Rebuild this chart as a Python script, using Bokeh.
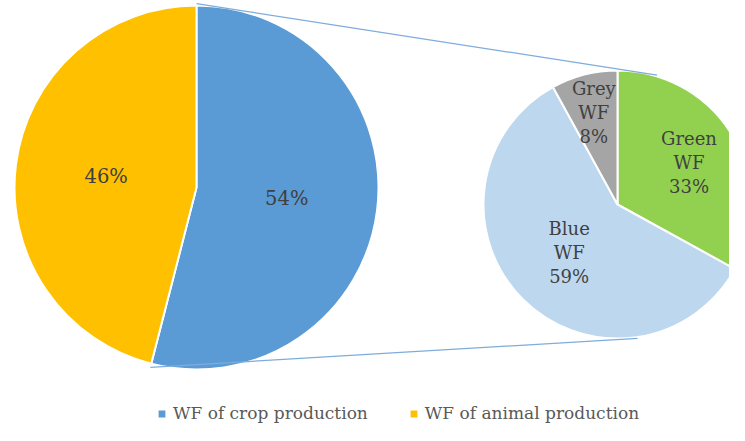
import math
from bokeh.plotting import figure
from bokeh.models import ColumnDataSource, Range1d, Legend, LegendItem
from bokeh.core.properties import value
from bokeh.embed import file_html
from bokeh.resources import INLINE

# ---- data ----
main_labels = ["WF of crop production", "WF of animal production"]
main_values = [54, 46]
main_colors = ["#5B9BD5", "#FFC000"]

sub_names = ["Green\nWF", "Blue\nWF", "Grey\nWF"]
sub_values = [33, 59, 8]
sub_colors = ["#92D050", "#BDD7EE", "#A5A5A5"]

# ---- layout (screen-like coords, y measured up from page bottom) ----
H = 441
W_FIG, H_FIG = 729, 425
main_c = (196, H - 187)
main_r = 182
sub_c = (617, H - 204)
sub_r = 134
main_label_rf = [0.5, 0.5]
sub_label_rf = [0.62, 0.51, 0.71]
FONT = "DejaVu Serif"


def wedges(values, start_deg=90.0):
    total = float(sum(values))
    starts, ends, mids = [], [], []
    cum = 0.0
    for v in values:
        s = start_deg - 360.0 * cum / total
        cum += v
        e = start_deg - 360.0 * cum / total
        starts.append(math.radians(s))
        ends.append(math.radians(e))
        mids.append(math.radians((s + e) / 2))
    return starts, ends, mids


p = figure(width=W_FIG, height=H_FIG, output_backend="svg", toolbar_location=None,
           x_range=Range1d(0, W_FIG), y_range=Range1d(H - H_FIG, H),
           min_border=0, outline_line_color=None)
p.xaxis.visible = False
p.yaxis.visible = False
p.grid.visible = False

ms, me, mm = wedges(main_values)
main_src = ColumnDataSource(dict(x=[main_c[0]] * 2, y=[main_c[1]] * 2, s=ms, e=me,
                                 color=main_colors, label=main_labels))
mr = p.wedge(x="x", y="y", radius=main_r, start_angle="s", end_angle="e", direction="clock",
             fill_color="color", line_color="white", line_width=2, source=main_src)

ss, se, sm = wedges(sub_values)
sub_src = ColumnDataSource(dict(x=[sub_c[0]] * 3, y=[sub_c[1]] * 3, s=ss, e=se, color=sub_colors))
p.wedge(x="x", y="y", radius=sub_r, start_angle="s", end_angle="e", direction="clock",
        fill_color="color", line_color="white", line_width=2, source=sub_src)

# connector lines
top_a0, top_a1 = math.radians(90), math.radians(73)
bot_a0, bot_a1 = me[0], math.radians(-81.5)
cx0 = [main_c[0] + main_r * 1.01 * math.cos(top_a0), main_c[0] + main_r * 1.02 * math.cos(bot_a0)]
cy0 = [main_c[1] + main_r * 1.01 * math.sin(top_a0), main_c[1] + main_r * 1.02 * math.sin(bot_a0)]
cx1 = [sub_c[0] + sub_r * 1.01 * math.cos(top_a1), sub_c[0] + sub_r * 1.01 * math.cos(bot_a1)]
cy1 = [sub_c[1] + sub_r * 1.01 * math.sin(top_a1), sub_c[1] + sub_r * 1.01 * math.sin(bot_a1)]
p.segment(x0=cx0, y0=cy0, x1=cx1, y1=cy1, line_color="#7EACDC", line_width=1.2)

# labels
total_m = sum(main_values)
mlx = [main_c[0] + f * main_r * math.cos(a) for f, a in zip(main_label_rf, mm)]
mly = [main_c[1] + f * main_r * math.sin(a) for f, a in zip(main_label_rf, mm)]
mtxt = ["%d%%" % round(100 * v / total_m) for v in main_values]
p.text(x=mlx, y=mly, text=mtxt, text_align="center", text_baseline="middle",
       text_font=value(FONT), text_font_size="19.5px", text_color="#404040")

total_s = sum(sub_values)
slx = [sub_c[0] + f * sub_r * math.cos(a) for f, a in zip(sub_label_rf, sm)]
sly = [sub_c[1] + f * sub_r * math.sin(a) for f, a in zip(sub_label_rf, sm)]
stxt = ["%s\n%d%%" % (n, round(100 * v / total_s)) for n, v in zip(sub_names, sub_values)]
p.text(x=slx, y=sly, text=stxt, text_align="center", text_baseline="middle",
       text_font=value(FONT), text_font_size="18px", text_color="#404040",
       text_line_height=1.15)

legend = Legend(items=[LegendItem(label=main_labels[i], renderers=[mr], index=i) for i in range(2)],
                orientation="horizontal", location=(156, 2), padding=0, margin=0,
                spacing=40, glyph_width=11, glyph_height=11, label_standoff=6,
                label_text_font=FONT, label_text_font_size="17px",
                label_text_color="#595959", border_line_color=None, background_fill_alpha=0)
p.add_layout(legend, "center")

open("out.html", "w").write(file_html(p, INLINE))
